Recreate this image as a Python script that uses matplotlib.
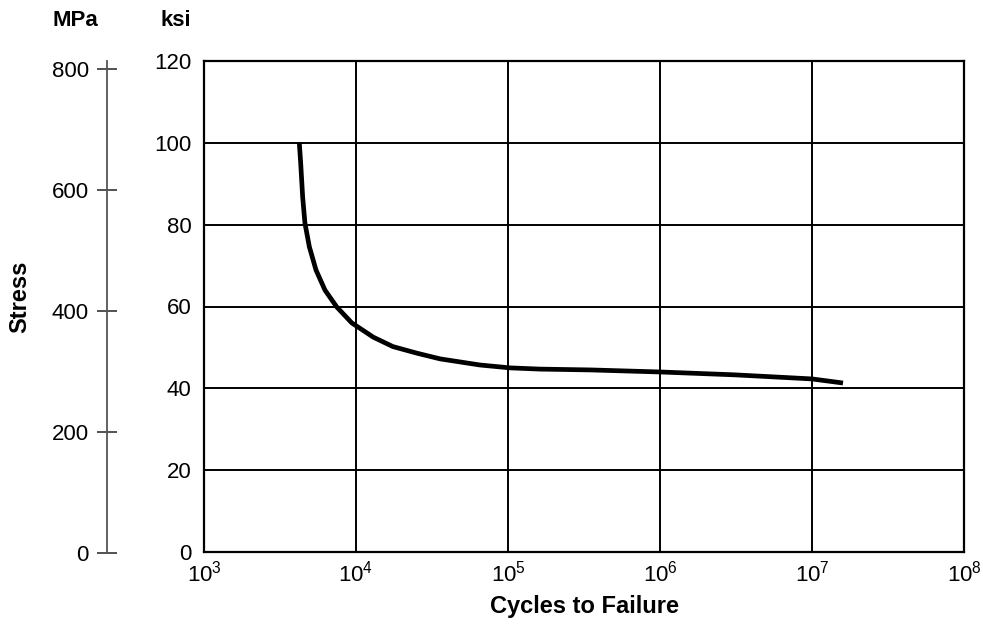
import numpy as np
import matplotlib.pyplot as plt

plt.rcParams['font.family'] = ['Liberation Sans', 'DejaVu Sans']
plt.rcParams['mathtext.default'] = 'regular'

# S-N curve: log10(cycles to failure) vs stress (ksi)
log_cycles = [3.627, 3.636, 3.649, 3.664, 3.693, 3.737, 3.796, 3.873, 3.972,
              4.114, 4.243, 4.40, 4.553, 4.816, 5.013, 5.21, 5.54, 6.0,
              6.49, 7.0, 7.204]
stress_ksi = [100, 95.1, 86.8, 80.4, 74.6, 68.9, 64.0, 59.9, 56.0,
              52.5, 50.2, 48.6, 47.2, 45.7, 45.0, 44.7, 44.5, 44.0,
              43.3, 42.3, 41.3]

x_decades = [3, 4, 5, 6, 7, 8]
ksi_ticks = [0, 20, 40, 60, 80, 100, 120]
mpa_ticks = [0, 200, 400, 600, 800]

W, H = 983, 626
fig = plt.figure(figsize=(W / 100, H / 100), dpi=100)

left, right, top, bottom = 204, 964, 61, 552
ax = fig.add_axes([left / W, 1 - bottom / H, (right - left) / W, (bottom - top) / H])

cycles = 10 ** np.array(log_cycles)
ax.plot(cycles, stress_ksi, color='black', lw=3.4, solid_capstyle='butt',
        solid_joinstyle='round')

ax.set_xscale('log')
ax.set_xlim(1e3, 1e8)
ax.set_ylim(0, 120)
ax.set_xticks([10 ** d for d in x_decades])
ax.set_xticklabels(['10$^{%d}$' % d for d in x_decades])
ax.xaxis.set_minor_locator(plt.NullLocator())
ax.set_yticks(ksi_ticks)
ax.grid(True, color='black', lw=1.4)
ax.tick_params(length=0, labelsize=16)
ax.tick_params(axis='y', pad=9)
ax.tick_params(axis='x', pad=6)
for s in ax.spines.values():
    s.set_linewidth(1.6)

ax.set_xlabel('Cycles to Failure', fontsize=17, fontweight='bold', labelpad=6)

# MPa scale on the far left
ax2 = fig.add_axes([107 / W, 1 - 553 / H, 0.001, (553 - 61) / H])
ax2.set_ylim(0, 813)
ax2.set_yticks(mpa_ticks)
ax2.set_xticks([])
for k in ['top', 'right', 'bottom']:
    ax2.spines[k].set_visible(False)
ax2.spines['left'].set_color('#555555')
ax2.spines['left'].set_linewidth(1.3)
ax2.tick_params(axis='y', direction='inout', length=14, width=1.2,
                color='#333333', labelsize=16, pad=6)
ax2.patch.set_visible(False)

fig.text(75 / W, 1 - 21 / H, 'MPa', fontsize=16, fontweight='bold', ha='center', va='center')
fig.text(176 / W, 1 - 21 / H, 'ksi', fontsize=16, fontweight='bold', ha='center', va='center')
fig.text(20 / W, 1 - 297 / H, 'Stress', fontsize=17, fontweight='bold',
         rotation=90, ha='center', va='center')

fig.savefig('out.png', dpi=100)
